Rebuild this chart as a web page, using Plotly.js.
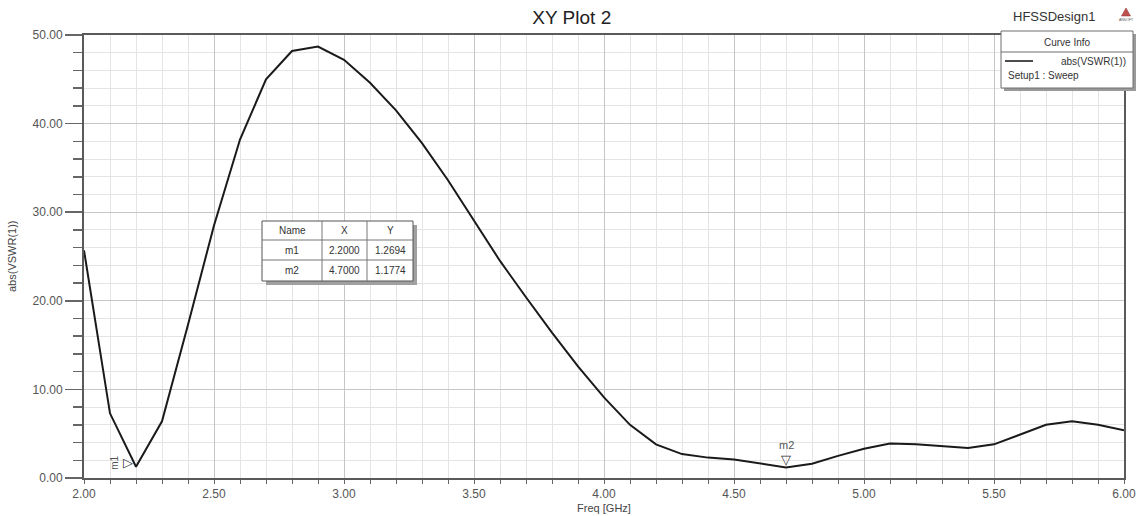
<!DOCTYPE html>
<html>
<head>
<meta charset="utf-8">
<script src="https://cdn.plot.ly/plotly-3.0.1.min.js"></script>
<style>html,body{margin:0;padding:0;background:#fff;}#plot{width:1139px;height:516px;}</style>
</head>
<body>
<div id="plot"></div>
<script>
// ---- data ----
var freq = [2.0,2.1,2.2,2.3,2.4,2.5,2.6,2.7,2.8,2.9,3.0,3.1,3.2,3.3,3.4,3.5,3.6,3.7,3.8,3.9,4.0,
            4.1,4.2,4.3,4.4,4.5,4.6,4.7,4.8,4.9,5.0,5.1,5.2,5.3,5.4,5.5,5.6,5.7,5.8,5.9,6.0];
var vswr = [25.7,7.3,1.2694,6.4,17.3,28.5,38.2,45.0,48.2,48.7,47.2,44.6,41.5,37.8,33.6,29.0,24.5,20.4,16.4,12.6,9.1,
            6.0,3.8,2.7,2.3,2.1,1.6,1.1774,1.6,2.5,3.3,3.9,3.8,3.6,3.4,3.8,4.9,6.0,6.4,6.0,5.4];
var markerNames = ["m1","m2"];
var markerX = [2.2, 4.7];
var markerY = [1.2694, 1.1774];
var curveName = "abs(VSWR(1))";
var setupName = "Setup1 : Sweep";
var plotTitle = "XY Plot 2";
var designName = "HFSSDesign1";
var xTitle = "Freq [GHz]";
var yTitle = "abs(VSWR(1))";

// ---- layout helpers (pixel -> paper) ----
var L = 84, R = 1124, T = 35, B = 478;
function px(x){ return (x - L) / (R - L); }
function py(y){ return (B - y) / (B - T); }

var FONT = "Liberation Sans, Arial, sans-serif";
var shapes = [];
var ann = [];

function rect(x0,y0,x1,y1,fill,line,lw){
  shapes.push({type:'rect', xref:'paper', yref:'paper', x0:px(x0), x1:px(x1), y0:py(y1), y1:py(y0),
    fillcolor:fill, line:{color:line||'rgba(0,0,0,0)', width:lw||0}, layer:'above'});
}
function hline(x0,x1,y,color,w){
  shapes.push({type:'line', xref:'paper', yref:'paper', x0:px(x0), x1:px(x1), y0:py(y), y1:py(y),
    line:{color:color, width:w}, layer:'above'});
}
function vline(x,y0,y1,color,w){
  shapes.push({type:'line', xref:'paper', yref:'paper', x0:px(x), x1:px(x), y0:py(y0), y1:py(y1),
    line:{color:color, width:w}, layer:'above'});
}
function txt(x,y,t,size,anchor,color,angle){
  ann.push({xref:'paper', yref:'paper', x:px(x), y:py(y), text:t, showarrow:false, textangle:angle||0,
    xanchor:anchor||'center', yanchor:'middle', font:{family:FONT, size:size, color:color||'#333'}});
}

// Curve Info legend box
rect(1004,34,1136,91,'#9a9a9a');
rect(1001,31,1133,88,'#ffffff','#6e6e6e',1);
hline(1001,1133,52,'#6e6e6e',1);
txt(1067,43,'Curve Info',10,'center');
hline(1005,1033,61,'#111',1.5);
txt(1128,61,curveName,10,'right');
txt(1006,76,setupName,10,'left');

// Header text & logo
txt(1054,17,designName,13,'center','#333');
shapes.push({type:'path', xref:'paper', yref:'paper',
  path:'M '+px(1126)+' '+py(8)+' L '+px(1121.5)+' '+py(16)+' L '+px(1130.5)+' '+py(16)+' Z',
  fillcolor:'#c0504d', line:{color:'#8a2e2e', width:0.5}, layer:'above'});
txt(1126,20,'ANSOFT',3.5,'center','#555');

// Axis titles
txt(12,256,yTitle,11,'center','#444',-90);

// Marker table
var tx = [262,322,367,413], ty = [221,240,260,281];
rect(tx[0]+4,ty[0]+4,tx[3]+4,ty[3]+4,'#a0a0a0');
rect(tx[0],ty[0],tx[3],ty[3],'#ffffff','#555',1);
for (var i=1;i<3;i++) vline(tx[i],ty[0],ty[3],'#777',1);
for (var j=1;j<3;j++) hline(tx[0],tx[3],ty[j],'#777',1);
var header = ['Name','X','Y'];
for (var c=0;c<3;c++) txt((tx[c]+tx[c+1])/2,(ty[0]+ty[1])/2,header[c],10,'center');
for (var r=0;r<markerNames.length;r++){
  var yc = (ty[r+1]+ty[r+2])/2;
  txt((tx[0]+tx[1])/2, yc, markerNames[r], 10, 'center');
  txt((tx[1]+tx[2])/2, yc, markerX[r].toFixed(4), 10, 'center');
  txt((tx[2]+tx[3])/2, yc, markerY[r].toFixed(4), 10, 'center');
}

// Marker glyphs on the curve
ann.push({x:markerX[0], y:markerY[0], xref:'x', yref:'y', text:'▷', showarrow:false,
  xanchor:'right', yanchor:'middle', xshift:-1, yshift:4, font:{family:'DejaVu Sans', size:13, color:'#333'}});
ann.push({x:markerX[0], y:markerY[0], xref:'x', yref:'y', text:markerNames[0], showarrow:false, textangle:-90,
  xanchor:'center', yanchor:'middle', xshift:-21, yshift:4, font:{family:FONT, size:10, color:'#555'}});
ann.push({x:markerX[1], y:markerY[1], xref:'x', yref:'y', text:'▽', showarrow:false,
  xanchor:'center', yanchor:'bottom', yshift:-1, font:{family:'DejaVu Sans', size:13, color:'#333'}});
ann.push({x:markerX[1], y:markerY[1], xref:'x', yref:'y', text:markerNames[1], showarrow:false,
  xanchor:'center', yanchor:'bottom', yshift:15, font:{family:FONT, size:11, color:'#555'}});

var trace = {x:freq, y:vswr, type:'scatter', mode:'lines', name:curveName,
  line:{color:'#1a1a1a', width:2}, hoverinfo:'skip'};

var layout = {
  width:1139, height:516,
  margin:{l:L, r:1139-R, t:T, b:516-B, pad:0},
  paper_bgcolor:'#ffffff', plot_bgcolor:'#ffffff',
  showlegend:false,
  title:{text:plotTitle, x:0.502, xref:'container', xanchor:'center', y:1-17/516, yref:'container', yanchor:'middle',
    font:{family:FONT, size:19, color:'#222'}},
  xaxis:{range:[2,6], dtick:0.5, tick0:2, tickformat:'.2f', showgrid:true, gridcolor:'#c6c6c6', gridwidth:1,
    zeroline:false, showline:true, linecolor:'#5a5a5a', linewidth:2, mirror:true,
    ticks:'outside', ticklen:4, tickcolor:'#666', tickwidth:1,
    minor:{dtick:0.1, showgrid:true, gridcolor:'#e4e4e4', gridwidth:1, ticks:'outside', ticklen:4, tickcolor:'#666'},
    tickfont:{family:FONT, size:12, color:'#555'},
    title:{text:xTitle, standoff:4, font:{family:FONT, size:11, color:'#444'}}, automargin:false},
  yaxis:{range:[0,50], dtick:10, tick0:0, tickformat:'.2f', showgrid:true, gridcolor:'#c6c6c6', gridwidth:1,
    zeroline:false, showline:true, linecolor:'#5a5a5a', linewidth:2, mirror:true,
    ticks:'outside', ticklen:17, tickcolor:'#666', tickwidth:1.5,
    minor:{dtick:2, showgrid:true, gridcolor:'#e4e4e4', gridwidth:1, ticks:'outside', ticklen:9, tickcolor:'#666'},
    tickfont:{family:FONT, size:12, color:'#555'},
    automargin:false},
  shapes:shapes, annotations:ann
};

Plotly.newPlot('plot', [trace], layout, {displayModeBar:false, staticPlot:true});
</script>
</body>
</html>
